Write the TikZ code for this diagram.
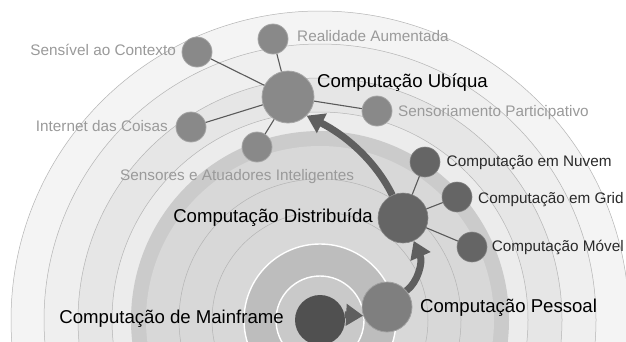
\documentclass[tikz,border=0pt]{standalone}
\usepackage{fontspec}
\setmainfont{Liberation Sans}
\usetikzlibrary{arrows.meta}
\definecolor{ringline}{HTML}{B4B4B4}
\definecolor{rA}{HTML}{F4F4F4}
\definecolor{rB}{HTML}{EFEFEF}
\definecolor{rC}{HTML}{E6E6E6}
\definecolor{rD}{HTML}{ECECEC}
\definecolor{rE}{HTML}{CBCBCB}
\definecolor{rF}{HTML}{D8D8D8}
\definecolor{rG}{HTML}{BDBDBD}
\definecolor{rH}{HTML}{C9C9C9}
\definecolor{mfill}{HTML}{505050}
\definecolor{dfill}{HTML}{656565}
\definecolor{pfill}{HTML}{7F7F7F}
\definecolor{ufill}{HTML}{898989}
\definecolor{arrowc}{HTML}{5F5F5F}
\definecolor{linkc}{HTML}{5A5A5A}
\definecolor{graytext}{HTML}{9A9A9A}
\definecolor{darktext}{HTML}{2A2A2A}
\begin{document}
\begin{tikzpicture}[x=1pt,y=-1pt,
  ringstyle/.style={draw=ringline,line width=0.5pt},
  whitering/.style={draw=white,line width=1.4pt},
  bignode/.style={circle,inner sep=0pt,minimum size=50pt},
  satnode/.style={circle,inner sep=0pt,minimum size=30pt},
  mfnode/.style={bignode,fill=mfill},
  distnode/.style={bignode,fill=dfill,draw=dfill!80!white,line width=0.6pt},
  distsat/.style={satnode,fill=dfill,draw=dfill!80!white,line width=0.6pt},
  pcnode/.style={bignode,fill=pfill,draw=pfill!75!white,line width=0.8pt},
  ubnode/.style={bignode,minimum size=52pt,fill=ufill,draw=ufill!75!white,line width=0.8pt},
  ubsat/.style={satnode,fill=ufill,draw=ufill!75!white,line width=0.8pt},
  link/.style={draw=linkc,line width=1.1pt},
  bigarrow/.style={draw=arrowc,line width=7pt,-{Triangle[length=17pt,width=21pt]}},
  biglabel/.style={inner sep=0pt,text=black,font=\fontsize{18.6}{20}\selectfont},
  graylabel/.style={inner sep=0pt,text=graytext,font=\fontsize{15.3}{17}\selectfont},
  darklabel/.style={inner sep=0pt,text=darktext,font=\fontsize{15.3}{17}\selectfont}]
\path[use as bounding box] (0,0) rectangle (626,341);
\fill[white] (0,0) rectangle (626,341);
\begin{scope}
\clip (0,0) rectangle (626,341);
\coordinate (c) at (320,320);
\fill[rA] (c) circle (309pt);
\fill[rB] (c) circle (276pt);
\fill[rC] (c) circle (242pt);
\fill[rD] (c) circle (208pt);
\fill[rE] (c) circle (189pt);
\fill[rF] (c) circle (174pt);
\foreach \r in {309,276,242,208,141,108} {\draw[ringstyle] (c) circle (\r pt);}
\fill[rG] (c) circle (76pt);
\fill[rH] (c) circle (44pt);
\draw[whitering] (c) circle (76pt);
\draw[whitering] (c) circle (44pt);
\end{scope}

% nodes
\node[mfnode] (mf) at (320,320) {};
\node[pcnode] (pc) at (387,307) {};
\node[distnode] (dc) at (403,218) {};
\node[distsat] (nuvem) at (425,162) {};
\node[distsat] (grid) at (457,197) {};
\node[distsat] (movel) at (472,247) {};
\node[ubnode] (uc) at (288,97) {};
\node[ubsat] (sensor) at (377,111) {};
\node[ubsat] (iot) at (191,127) {};
\node[ubsat] (atu) at (257,147) {};
\node[ubsat] (ctx) at (197,52) {};
\node[ubsat] (ra) at (273,39) {};

% links
\draw[link] (dc) -- (nuvem);
\draw[link] (dc) -- (grid);
\draw[link] (dc) -- (movel);
\draw[link] (uc) -- (sensor);
\draw[link] (uc) -- (iot);
\draw[link] (uc) -- (atu);
\draw[link] (uc) -- (ctx);
\draw[link] (uc) -- (ra);

% arrows
\draw[bigarrow] (mf.12) -- (pc.200);
\draw[bigarrow] (pc.40) .. controls (418,282) and (423,262) .. (dc.-65);
\draw[bigarrow] (dc.115) .. controls (375,160) and (345,135) .. (uc.-45);

% labels
\node[biglabel,anchor=base east] (lmf) at (284,323) {Computação de Mainframe};
\node[biglabel,anchor=base west] (lpc) at (420,312) {Computação Pessoal};
\node[biglabel,anchor=base east] (ldc) at (373,222) {Computação Distribuída};
\node[biglabel,anchor=base west] (luc) at (317,87.5) {Computação Ubíqua};
\node[graylabel,anchor=base west] (lra) at (297,41.7) {Realidade Aumentada};
\node[graylabel,anchor=base west] (lsensor) at (398,116.7) {Sensoriamento Participativo};
\node[graylabel,anchor=base east] (lctx) at (176,55.7) {Sensível ao Contexto};
\node[graylabel,anchor=base east] (liot) at (168,131.7) {Internet das Coisas};
\node[graylabel,anchor=base west] (latu) at (120,180.7) {Sensores e Atuadores Inteligentes};
\node[darklabel,anchor=base west] (lnuvem) at (446.5,166.7) {Computação em Nuvem};
\node[darklabel,anchor=base west] (lgrid) at (478,203.3) {Computação em Grid};
\node[darklabel,anchor=base west] (lmovel) at (491.7,251.7) {Computação Móvel};
\end{tikzpicture}
\end{document}
